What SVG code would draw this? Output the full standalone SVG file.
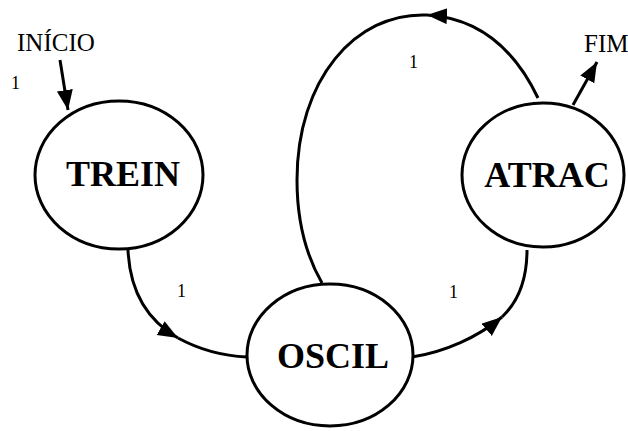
<svg xmlns="http://www.w3.org/2000/svg" width="628" height="431" viewBox="0 0 628 431">
  <style>
    .state ellipse { fill: #ffffff; stroke: #000000; stroke-width: 3; }
    .state text { font-family: "Liberation Serif", "Times New Roman", serif; font-weight: bold; font-size: 36px; fill: #000000; text-anchor: middle; }
    .edge { fill: none; stroke: #000000; stroke-width: 3; }
    .lbl { font-family: "Liberation Serif", "Times New Roman", serif; font-size: 18px; fill: #000000; }
    .term { font-family: "Liberation Serif", "Times New Roman", serif; font-size: 25px; fill: #000000; }
  </style>
  <defs>
    <marker id="arrow" markerUnits="userSpaceOnUse" markerWidth="22" markerHeight="18" refX="20" refY="8" orient="auto">
      <path d="M0,0 L20,8 L0,16 z" fill="#000000"/>
    </marker>
  </defs>

  <rect width="628" height="431" fill="#ffffff"/>

  <!-- connectors -->
  <g id="connectors">
    <!-- start marker -->
    <line class="edge" x1="60" y1="60" x2="68" y2="110" marker-end="url(#arrow)"/>
    <!-- final marker -->
    <line class="edge" x1="573" y1="105" x2="597" y2="62" marker-end="url(#arrow)"/>
    <!-- TREIN to OSCIL -->
    <path class="edge" d="M128,250 C130,295 150,322 178,338" marker-end="url(#arrow)"/>
    <path class="edge" d="M178,338 C200,350 225,356 247,357"/>
    <!-- OSCIL to ATRAC -->
    <path class="edge" d="M412,357 C445,352 478,337 502,317" marker-end="url(#arrow)"/>
    <path class="edge" d="M502,317 C520,300 527,275 527,250"/>
    <!-- ATRAC back to OSCIL over the top -->
    <path class="edge" d="M538,98 C515,50 480,18 427,15" marker-end="url(#arrow)"/>
    <path class="edge" d="M427,15 C355,12 297,80 297,180 C297,225 307,257 322,283"/>
  </g>

  <!-- labels -->
  <g id="labels">
    <text class="term" x="17" y="51">INÍCIO</text>
    <text class="term" x="584" y="52" font-size="24">FIM</text>
    <text class="lbl" x="11" y="89">1</text>
    <text class="lbl" x="409" y="68">1</text>
    <text class="lbl" x="177" y="297">1</text>
    <text class="lbl" x="449" y="298">1</text>
  </g>

  <g id="trein" class="state">
    <ellipse cx="119" cy="175" rx="84" ry="74"/>
    <text x="123" y="186">TREIN</text>
  </g>

  <g id="atrac" class="state">
    <ellipse cx="543" cy="175" rx="81" ry="72"/>
    <text x="547" y="187">ATRAC</text>
  </g>

  <g id="oscil" class="state">
    <ellipse cx="330" cy="355" rx="83" ry="71"/>
    <text x="333" y="368">OSCIL</text>
  </g>
</svg>
